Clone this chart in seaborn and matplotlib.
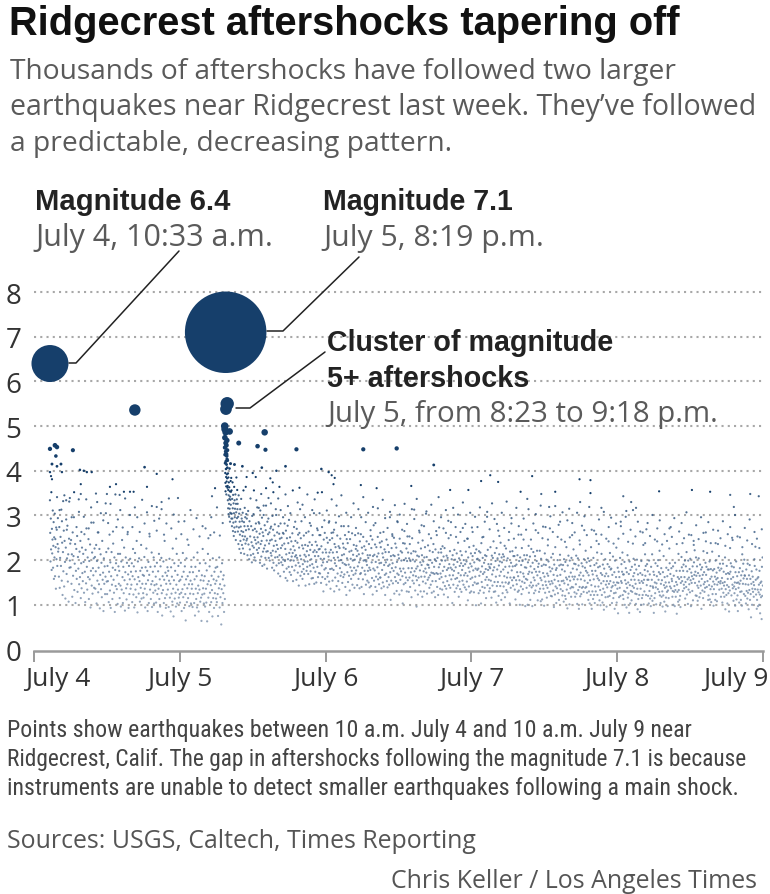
import numpy as np
import pandas as pd
import matplotlib
matplotlib.use("Agg")
import matplotlib.pyplot as plt
import seaborn as sns
from matplotlib import font_manager
from matplotlib.lines import Line2D
from matplotlib.colors import LinearSegmentedColormap
from matplotlib.transforms import ScaledTranslation

# ------------------------------------------------------------------
# DATA  (x = hours after the "July 4" tick, y = magnitude)
# ------------------------------------------------------------------
day_tick_hours = [0, 24, 48, 72, 96, 120]
day_labels = ["July 4", "July 5", "July 6", "July 7", "July 8", "July 9"]
mag_ticks = [0, 1, 2, 3, 4, 5, 6, 7, 8]

main_hours = [2.63, 31.55]
main_mags = [6.4, 7.1]

cluster_hours = [31.8, 31.6, 31.4]
cluster_mags = [5.5, 5.38, 5.0]

lone_hours = [16.6]
lone_mags = [5.36]

# larger individual quakes (pre-7.1)
pre_notable_hours = [2.63, 3.45, 3.78, 3.6, 6.4, 2.96, 3.78, 4.44, 2.63, 2.8, 2.96, 4.6,
                     7.56, 8.2, 8.7, 9.5, 7.7, 18.2, 20.2, 22.8, 18.6, 29.8, 23.7, 29.3,
                     12.5, 13.5, 14.1, 14.8, 15.8, 16.4, 12.0, 10.4, 4.8, 5.3, 5.9, 7.7,
                     21.0, 20.2]
pre_notable_mags = [4.49, 4.57, 4.53, 4.33, 4.46, 4.15, 4.1, 4.15, 3.97, 3.88, 3.81, 3.97,
                    4.02, 4.0, 3.97, 3.97, 3.7, 4.08, 3.93, 3.81, 3.64, 3.61, 3.39, 3.43,
                    3.64, 3.7, 3.46, 3.53, 3.53, 3.53, 3.48, 3.3, 3.32, 3.34, 3.39, 3.48,
                    3.3, 3.19]

# larger individual quakes (post-7.1)
post_notable_hours = [32.2, 37.97, 33.7, 36.8, 38.1, 43.2, 31.7, 41.4, 54.2, 59.7, 65.8,
                      47.3, 48.5, 49.0, 49.5, 49.3, 53.8, 56.4, 62.1, 73.6, 75.1, 76.4,
                      68.5, 71.5, 80.1, 40.4, 43.7, 46.7, 82.0, 89.8, 91.6, 91.6, 85.8,
                      83.5, 81.2, 97.0, 102.9, 108.3, 111.3, 114.6, 117.9, 119.3, 115.2,
                      89.9, 93.4, 98.3, 99.1, 97.5, 84.8, 88.1, 39.9, 37.5, 36.5, 35.0,
                      33.0, 34.3, 38.9, 39.3, 36.0]
post_notable_mags = [4.88, 4.86, 4.62, 4.55, 4.47, 4.48, 4.37, 4.1, 4.48, 4.5, 4.13,
                     4.04, 3.97, 3.9, 3.84, 3.7, 3.68, 3.61, 3.66, 3.77, 3.9, 3.75,
                     3.57, 3.57, 3.53, 3.64, 3.62, 3.51, 3.88, 3.81, 3.79, 3.5, 3.53,
                     3.48, 3.37, 3.43, 3.54, 3.57, 3.53, 3.46, 3.48, 3.43, 3.19,
                     3.3, 3.17, 3.3, 3.17, 3.1, 3.19, 3.15, 4.0, 4.07, 3.86, 3.86,
                     4.14, 4.1, 3.83, 3.74, 3.95]

# dense cloud of small quakes: per time bin, magnitudes x100
pre_bin_edges = [2.6, 4, 6, 8, 10, 12, 14, 16, 18, 20, 22, 24, 26, 28, 30, 31.45]
pre_bin_mags = [
    "334 261 197 293 224 352 178 270 215 246 311 183 232 285 158 251 206 304 164 247 229 136 273 202 268 341 187 236 294 219",
    "226 163 274 138 205 252 187 313 154 239 122 218 175 266 141 243 196 114 228 291 169 204 277 152 213 107 248 183 199 237",
    "184 245 147 213 118 262 165 209 296 133 192 236 104 176 225 158 254 129 207 181 336 146 219 162 243 115 193 137 228 171",
    "153 214 196 127 258 174 106 223 148 271 185 134 206 162 247 113 198 157 235 94 176 284 143 217 125 182 166 204 138 226",
    "207 136 175 234 103 198 154 262 128 183 146 225 92 167 213 135 194 117 243 156 172 86 204 147 186 124 163 305 218 152",
    "124 187 153 226 106 174 257 132 195 93 164 218 145 113 183 237 156 127 206 84 178 142 193 274 135 166 102 214 186 147",
    "176 115 214 143 96 197 134 245 162 104 185 126 228 155 87 173 206 137 112 194 146 263 168 93 187 124 157 203 136 174",
    "145 193 106 164 225 123 186 94 157 216 134 175 117 243 146 83 197 162 125 204 153 107 176 138 234 114 183 147 167 126",
    "116 165 207 136 94 184 147 226 123 176 86 155 196 104 167 253 134 185 113 146 217 95 153 174 127 206 103 144 186 132",
    "163 105 146 194 124 84 175 136 214 113 157 96 186 143 205 126 76 164 133 197 104 156 243 115 172 93 147 123 165 184",
    "134 176 95 154 203 116 147 85 184 125 163 107 226 136 74 155 193 114 176 127 96 145 214 103 167 134 187 116 153 124",
    "105 156 194 127 86 163 135 216 117 174 93 145 186 124 65 157 204 106 137 164 115 234 146 97 173 125 154 103 185 136",
    "146 95 173 124 206 104 157 76 185 136 113 164 94 217 126 143 85 176 134 193 107 155 116 64 166 123 225 137 154 103",
    "125 164 96 193 136 105 177 63 146 214 116 153 84 186 127 256 144 106 165 133 74 204 115 157 93 174 126 147 183 114",
    "154 106 185 124 75 163 137 206 94 146 117 174 56 135 193 104 157 126 166 84 143 113",
]
post_bin_edges = [31.4, 31.85, 32.5, 33.5, 35, 37, 39, 41, 43, 45, 47, 49, 51, 53, 55,
                  57, 59, 61, 63, 65, 67, 69, 71, 73, 75, 77, 79, 81, 83, 85, 87, 89,
                  91, 93, 95, 97, 99, 101, 103, 105, 107, 109, 111, 113, 115, 117, 119, 120]
post_bin_mags = [
    "493 474 452 436 417 395 373 354 486 462 443 421 404 386 365 347 457 414 376 433 392 468 426 383 446 407 362",
    "423 366 334 394 316 357 385 303 345 374 326 297 363 337 405 315 354 286 342 306 335 416 377 324 353 304 384 293",
    "356 304 276 337 293 374 316 265 346 284 327 254 305 364 273 334 296 315 263 347 286 245 326 307 385 275 336 294 357 314",
    "326 264 297 236 345 273 304 225 286 257 314 243 275 216 337 265 293 234 287 254 306 226 263 356 246 285 214 276 317 253 296 237 364 267 303 244",
    "293 248 211 276 310 235 269 202 287 224 253 338 211 276 240 195 299 232 267 214 303 228 251 206 270 245 199 282 237 264 223 318 251 216 240 285",
    "227 282 259 194 311 236 270 208 243 295 187 262 219 254 301 226 190 278 233 205 267 322 219 244 181 286 220 258 293 205 237 262 199 244 271 216",
    "275 210 246 183 299 221 268 194 232 177 255 280 206 243 219 301 188 234 262 207 225 170 276 193 259 211 248 164 282 227 195 250 206 233 189 261",
    "201 259 174 237 282 198 225 160 266 213 181 249 154 277 202 238 185 290 216 173 251 199 224 167 242 208 185 260 216 153 231 199 274 177 222 208",
    "243 188 211 156 270 205 239 172 257 194 143 228 261 186 210 165 249 202 287 174 233 158 191 226 180 255 169 212 197 234 143 208 261 176 220 185",
    "197 232 169 264 211 146 240 188 223 175 277 202 159 234 191 256 160 218 183 305 147 222 209 174 241 196 150 218 233 185 267 162 209 224 171 256",
    "225 170 256 203 149 231 188 274 162 217 195 130 246 203 179 261 158 224 182 217 145 250 196 163 239 171 208 284 152 217 245 180 136 223 199 261",
    "181 249 154 217 262 178 205 130 236 193 161 229 284 187 142 218 255 170 206 153 231 199 134 227 182 248 165 200 276 173 211 149 194 237 162 228",
    "213 168 191 256 140 225 189 122 247 204 173 238 151 276 190 165 219 132 247 184 203 158 221 176 260 145 199 212 167 234 183 138 201 256 170 225",
    "177 232 209 144 221 186 260 158 213 195 137 242 169 204 171 296 140 228 183 215 157 252 199 124 231 176 200 168 223 145 197 242 189 154 211 176",
    "205 150 236 183 139 211 178 254 142 227 195 160 246 123 209 181 278 154 212 177 235 140 196 163 229 131 208 184 252 157 215 170 146 193 239 161",
    "161 229 194 137 242 178 215 150 206 263 141 189 224 167 122 218 195 170 246 153 201 139 234 187 162 218 145 190 296 173 111 209 154 227 182 258",
    "193 148 211 176 250 125 209 162 237 184 153 228 131 196 170 285 149 212 167 204 123 248 181 156 220 175 199 132 217 164 103 238 181 146 200 265",
    "237 172 149 204 161 226 130 198 253 155 217 182 129 204 161 236 140 198 173 215 117 182 249 154 201 166 220 148 313 175 197 132 219 164 181 96",
    "155 210 186 123 239 161 208 144 262 177 195 130 226 163 189 211 118 244 152 197 175 130 206 163 229 181 148 304 172 207 125 190 156 233 189 161",
    "183 138 221 166 200 145 249 172 127 194 153 218 171 236 130 185 169 202 117 224 153 198 171 256 140 205 169 122 217 184 273 158 191 136 170 225",
    "217 162 199 134 231 176 150 208 123 185 227 142 199 164 261 136 210 178 153 205 117 182 249 144 191 166 220 138 183 285 157 202 179 104 211 166",
    "145 190 176 223 129 201 158 184 252 137 215 160 196 143 239 171 118 204 152 187 135 220 166 193 129 211 178 154 272 187 145 200 166 243 139 191",
    "171 219 134 197 152 248 165 110 206 183 141 229 174 127 192 158 215 130 186 273 161 209 144 177 232 128 195 150 216 163 181 99 224 147 202 178",
    "203 148 181 126 220 165 199 132 217 174 103 238 151 186 140 205 169 252 127 194 173 138 211 156 180 115 209 162 297 144 223 178 191 156 130 185",
    "137 182 229 154 191 116 210 168 143 205 177 242 129 184 151 216 130 198 163 105 227 142 179 204 151 266 120 188 213 165 197 142 239 174 111 206",
    "195 150 126 213 179 141 208 164 232 117 185 150 226 133 199 161 128 204 172 147 245 150 186 103 219 161 138 194 282 177 155 220 186 143 209 161",
    "161 209 134 187 112 228 155 190 146 173 211 129 164 257 132 198 155 100 206 173 141 189 124 227 152 198 135 170 246 163 211 149 184 97 202 158",
    "183 138 211 156 100 195 169 232 127 174 143 208 111 186 150 225 139 172 97 194 143 218 161 126 180 155 209 132 267 174 143 198 221 166 110 185",
    "147 192 129 174 221 136 160 108 203 155 187 112 249 144 171 136 190 98 163 215 127 152 189 144 201 116 170 138 233 165 197 152 129 184 271 146",
    "175 120 206 153 119 181 148 214 132 167 95 190 156 123 229 141 178 104 182 137 165 200 126 153 279 111 188 144 212 167 135 190 246 153 179 121",
    "131 189 154 107 202 148 175 120 196 113 161 229 134 157 92 188 145 210 126 163 101 199 154 137 172 118 205 140 256 163 181 139 224 157 192 128",
    "163 118 191 146 210 125 179 102 157 204 133 188 91 166 140 235 119 172 157 124 193 138 101 186 140 165 129 202 267 154 183 138 221 176 140 195",
    "127 172 149 204 111 166 130 198 103 155 187 122 229 144 91 176 130 168 113 205 157 122 189 104 141 176 130 258 193 165 217 122 159 184 141 236",
    "155 110 186 133 99 171 148 214 122 167 105 190 136 153 89 181 128 164 202 117 145 170 96 153 139 191 118 164 242 147 185 120 216 153 179 131",
    "181 139 104 167 142 208 115 150 126 173 91 199 144 127 162 228 105 150 136 183 81 149 174 117 162 138 205 120 286 153 191 149 174 217 122 168",
    "113 168 131 196 100 155 129 182 147 94 173 138 211 116 150 125 169 82 197 144 103 178 131 156 110 185 129 142 237 164 203 138 171 156 190 125",
    "147 102 179 124 201 136 90 168 113 155 187 122 149 84 171 136 100 198 153 115 167 122 149 234 101 156 130 178 213 165 187 122 269 144 191 156",
    "175 120 156 103 199 131 168 114 142 97 185 120 156 213 109 141 138 174 82 167 115 150 126 193 139 101 148 164 242 187 135 200 156 173 129 221",
    "121 169 104 147 182 118 155 130 96 173 121 209 144 107 162 138 85 150 116 183 141 129 164 97 132 178 115 150 226 193 141 169 274 137 182 158",
    "153 118 131 186 100 165 129 142 97 194 133 118 151 176 80 145 129 162 107 214 133 158 111 176 120 95 149 162 207 184 153 238 131 176 190 145",
    "137 162 199 114 151 186 140 218 123 175 157 102 199 134 161 146 180 128 203 155 97 172 149 164 131 186 110 158 243 195 167 222 149 174 121 206",
    "165 120 186 143 109 171 138 204 152 117 165 190 126 143 179 91 158 184 132 167 115 220 146 173 129 151 138 194 262 167 185 140 216 153 179 111",
    "121 179 144 197 112 158 135 180 106 163 141 219 124 177 152 98 135 180 146 163 111 199 124 157 172 108 145 160 236 183 151 209 134 177 192 148",
    "153 118 181 136 160 105 149 192 127 174 143 118 151 206 90 135 169 122 187 144 103 158 171 126 140 85 169 132 227 174 193 158 121 186 250 145",
    "137 162 109 184 141 126 150 98 173 135 197 112 149 164 121 86 150 138 173 105 147 182 129 154 111 166 130 98 213 175 147 192 159 124 201 166",
    "165 120 146 103 179 131 158 114 192 127 145 90 166 133 189 111 158 124 72 147 175 100 136 163 129 151 118 144 202 187 135 230 156 123 179 91",
    "111 159 134 97 162 128 145 100 176 123 81 149 134 117 152 68 185 120 206 143",
]
# sparse upper band (about M2.3-3.6), magnitudes x100 per 4-hour bin
upper_bin_edges = [4, 8, 12, 16, 20, 24, 28, 31.3, 36, 40, 44, 48, 52, 56, 60, 64, 68,
                   72, 76, 80, 84, 88, 92, 96, 100, 104, 108, 112, 116, 120]
upper_bin_mags = [
    "312 287 345 268 331 296 352 274 308 263",
    "297 336 271 318 284 349 262 305 289 327",
    "283 326 264 347 291 312 273 338 258 301",
    "274 318 296 263 335 282 307 259 321 288",
    "266 293 314 257 282 338 271 302 248 286",
    "258 287 246 312 269 294 253 276",
    "271 249 296 262 318 255 283",
    "",
    "356 334 317 348 322 361 339 327 352 314",
    "338 312 296 347 321 305 356 286 329 314",
    "324 296 347 283 312 336 271 305 352 289",
    "311 287 336 268 322 298 345 276 306 263",
    "296 327 272 314 258 341 285 306 267 319",
    "283 316 261 335 294 272 308 254 323 287",
    "302 268 326 281 253 314 292 337 266 278",
    "276 309 258 324 287 265 341 296 271 312",
    "288 256 317 274 302 263 329 281 248 306",
    "263 297 274 318 251 286 308 269 327 292",
    "281 254 306 272 331 263 294 248 317 276",
    "257 293 268 314 246 282 303 261 322 275",
    "274 246 298 263 321 252 286 307 241 289",
    "251 283 262 306 244 277 298 256 319 268",
    "266 243 291 257 308 248 274 295 237 282",
    "248 276 259 297 241 268 312 253 286 264",
    "262 238 283 254 301 246 271 289 235 258",
    "243 271 252 294 236 264 283 249 307 257",
    "256 234 278 247 296 261 242 285 238 268",
    "238 266 249 287 232 258 274 245 301 253",
    "251 229 272 244 291 236 263 248 227 269",
]

# ------------------------------------------------------------------
# build table
# ------------------------------------------------------------------
rows = []
for edges, mags in ((pre_bin_edges, pre_bin_mags), (post_bin_edges, post_bin_mags),
                    (upper_bin_edges, upper_bin_mags)):
    for a, b, s in zip(edges[:-1], edges[1:], mags):
        vals = [int(v) / 100 for v in s.split()]
        n = len(vals)
        for k, m in enumerate(vals):
            rows.append((a + (b - a) * (k + 0.5) / n, m))
for h, m in zip(pre_notable_hours + post_notable_hours, pre_notable_mags + post_notable_mags):
    rows.append((h, m))
for h, m in zip(lone_hours + cluster_hours + main_hours, lone_mags + cluster_mags + main_mags):
    rows.append((h, m))

df = pd.DataFrame(rows, columns=["hour", "mag"])
# marker area grows ~10x per magnitude unit (radius 18.5 px at M6.4)
r_px = 18.5 * 3.09 ** (df["mag"] - 6.4)
d_pt = np.maximum(2 * r_px, 2.2) * 0.72
df["area"] = d_pt ** 2
df = df.sort_values("mag").reset_index(drop=True)
small = df[df["mag"] < 3.5]
big = df[df["mag"] >= 3.5]

# ------------------------------------------------------------------
# figure
# ------------------------------------------------------------------
sns.set_theme(style="white")
NAVY = "#163f6b"
W, H = 770, 895

def pick(*names):
    avail = {f.name for f in font_manager.fontManager.ttflist}
    for n in names:
        if n in avail:
            return n
    return "DejaVu Sans"

F_BOLD = pick("Liberation Sans", "Roboto")
F_LIGHT = pick("Open Sans", "Lato", "Liberation Sans")
F_NARROW = pick("Liberation Sans Narrow", "Roboto Condensed", "Liberation Sans")
F_REG = pick("Liberation Sans", "Roboto")
plt.rcParams["font.family"] = [F_REG, "DejaVu Sans"]

fig = plt.figure(figsize=(W / 100, H / 100), dpi=100)
fig.patch.set_facecolor("white")
ax = fig.add_axes([34 / W, 1 - 652 / H, (763 - 34) / W, (652 - 285) / H])

cloud_cmap = LinearSegmentedColormap.from_list("cloud", ["#7d92ad", "#4a6a90", NAVY])
sns.scatterplot(data=small, x="hour", y="mag", size="area",
                sizes=(small["area"].min(), small["area"].max()),
                size_norm=(small["area"].min(), small["area"].max()),
                hue="mag", palette=cloud_cmap, hue_norm=(1.0, 3.5),
                linewidth=0, alpha=0.8, legend=False, ax=ax)
sns.scatterplot(data=big, x="hour", y="mag", size="area",
                sizes=(big["area"].min(), big["area"].max()),
                size_norm=(big["area"].min(), big["area"].max()),
                color=NAVY, linewidth=0, alpha=1.0, legend=False, clip_on=False, ax=ax)

ax.set_xlim(0, 120)
ax.set_ylim(-0.034, 8.18)
ax.set_xlabel("")
ax.set_ylabel("")
ax.set_xticks(day_tick_hours)
ax.set_xticklabels(day_labels, family=F_LIGHT)
ax.set_yticks(mag_ticks)
ax.set_yticklabels([str(v) for v in mag_ticks], family=F_LIGHT)
ax.tick_params(axis="x", length=8, width=1.4, color="#9a9a9a", pad=3,
               labelsize=19, labelcolor="#333333", direction="out", bottom=True)
ax.tick_params(axis="y", length=0, pad=9, labelsize=20, labelcolor="#333333")
for sp in ["top", "right", "left"]:
    ax.spines[sp].set_visible(False)
ax.spines["bottom"].set_color("#9a9a9a")
ax.spines["bottom"].set_linewidth(1.8)
ax.yaxis.grid(True, color="#a8a8a8", linestyle=(0, (1, 2)), linewidth=1.5)
ax.xaxis.grid(False)
ax.get_ygridlines()[0].set_visible(False)
ax.set_axisbelow(True)

labs = ax.get_xticklabels()
labs[0].set_horizontalalignment("left")
labs[0].set_transform(labs[0].get_transform() + ScaledTranslation(-9 / 100, 0, fig.dpi_scale_trans))
labs[-1].set_horizontalalignment("right")
labs[-1].set_transform(labs[-1].get_transform() + ScaledTranslation(5 / 100, 0, fig.dpi_scale_trans))

renderer = fig.canvas.get_renderer()

def put(x, y, s, width, family, weight="normal", color="#222222", ha="left"):
    t = fig.text(x / W, 1 - y / H, s, ha=ha, va="baseline", fontsize=20,
                 family=[family, "DejaVu Sans"], weight=weight, color=color)
    w = t.get_window_extent(renderer).width
    t.set_fontsize(20 * width / w)
    return t

# title + subtitle
put(9, 35, "Ridgecrest aftershocks tapering off", 672, F_BOLD, "bold", "#111111")
put(10, 79, "Thousands of aftershocks have followed two larger", 666, F_LIGHT, "normal", "#5a5a5a")
put(10, 115, "earthquakes near Ridgecrest last week. They\u2019ve followed", 745, F_LIGHT, "normal", "#5a5a5a")
put(10, 151, "a predictable, decreasing pattern.", 440, F_LIGHT, "normal", "#5a5a5a")

# annotations
put(35, 210, "Magnitude 6.4", 195, F_BOLD, "bold", "#222222")
put(35, 246, "July 4, 10:33 a.m.", 238, F_LIGHT, "normal", "#5a5a5a")
put(323, 210, "Magnitude 7.1", 190, F_BOLD, "bold", "#222222")
put(323, 246, "July 5, 8:19 p.m.", 220, F_LIGHT, "normal", "#5a5a5a")
put(327, 351, "Cluster of magnitude", 286, F_BOLD, "bold", "#222222")
put(327, 387, "5+ aftershocks", 202, F_BOLD, "bold", "#222222")
put(327, 422, "July 5, from 8:23 to 9:18 p.m.", 392, F_LIGHT, "normal", "#5a5a5a")

def leader(pts):
    xs = [p[0] / W for p in pts]
    ys = [1 - p[1] / H for p in pts]
    fig.add_artist(Line2D(xs, ys, transform=fig.transFigure, color="#222222", lw=1.1))

leader([(69, 364), (76, 364), (179, 252)])
leader([(267, 332), (283, 332), (359, 258)])
leader([(236, 409), (250, 409), (325, 353)])

# footer
put(7, 737, "Points show earthquakes between 10 a.m. July 4 and 10 a.m. July 9 near", 683, F_NARROW, "normal", "#444444")
put(7, 766, "Ridgecrest, Calif. The gap in aftershocks following the magnitude 7.1 is because", 741, F_NARROW, "normal", "#444444")
put(7, 795, "instruments are unable to detect smaller earthquakes following a main shock.", 731, F_NARROW, "normal", "#444444")
put(7, 848, "Sources: USGS, Caltech, Times Reporting", 468, F_LIGHT, "normal", "#555555")
put(757, 888, "Chris Keller / Los Angeles Times", 365, F_LIGHT, "normal", "#555555", ha="right")

fig.savefig("out.png", dpi=100, facecolor="white")
